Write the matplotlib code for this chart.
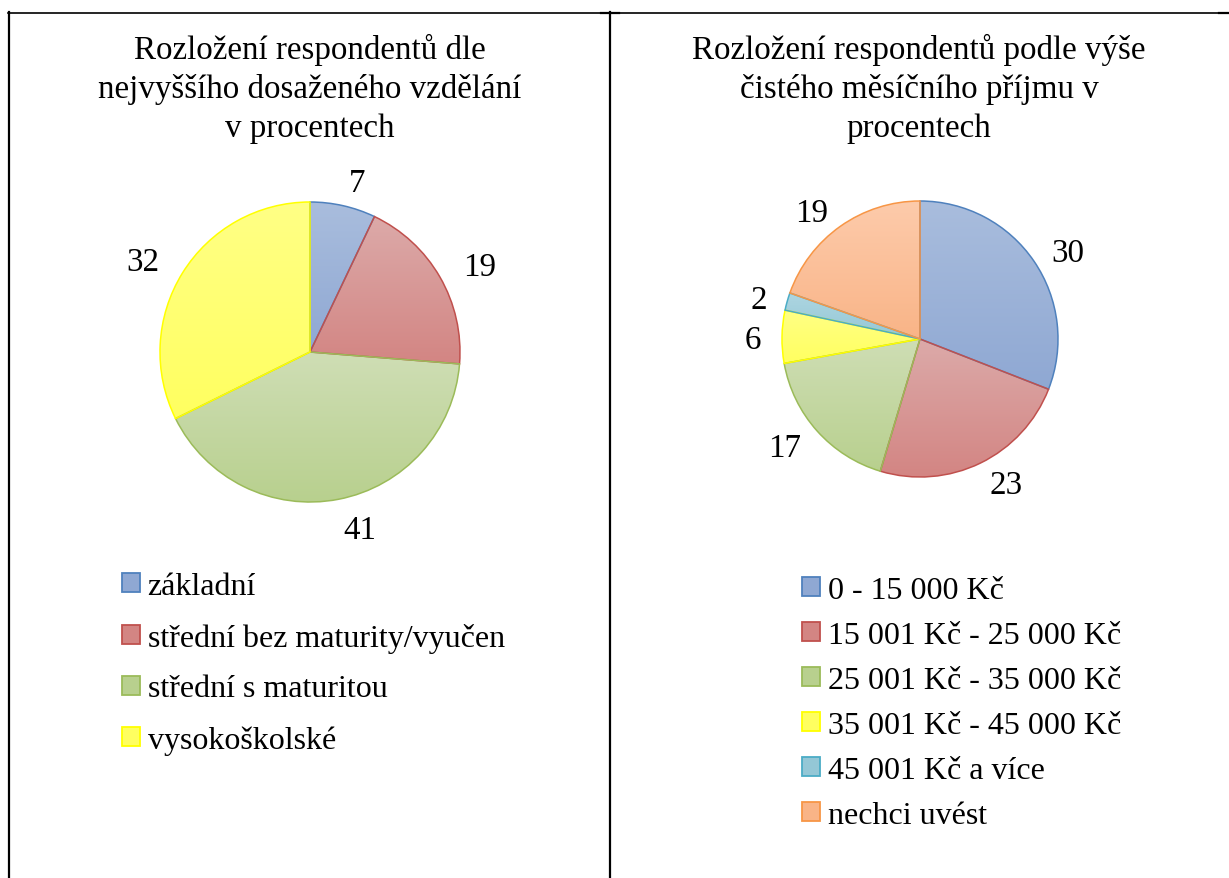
import numpy as np
import matplotlib
matplotlib.use("Agg")
import matplotlib.pyplot as plt
from matplotlib.colors import LinearSegmentedColormap
from matplotlib.lines import Line2D
from matplotlib.patches import Rectangle

plt.rcParams['font.family'] = ['Liberation Serif', 'DejaVu Serif']

# data
edu_title = "Rozložení respondentů dle\nnejvyššího dosaženého vzdělání\nv procentech"
edu_labels = ["základní", "střední bez maturity/vyučen", "střední s maturitou", "vysokoškolské"]
edu_values = [7, 19, 41, 32]

inc_title = "Rozložení respondentů podle výše\nčistého měsíčního příjmu v\nprocentech"
inc_labels = ["0 - 15 000 Kč", "15 001 Kč - 25 000 Kč", "25 001 Kč - 35 000 Kč",
              "35 001 Kč - 45 000 Kč", "45 001 Kč a více", "nechci uvést"]
inc_values = [30, 23, 17, 6, 2, 19]

# (top of gradient, bottom of gradient, outline)
palette = [
    ("#a9bddd", "#8fa8d3", "#4f81bd"),   # blue
    ("#dcaaa9", "#d38583", "#c0504d"),   # red
    ("#cfdeb5", "#b8d08e", "#9bbb59"),   # green
    ("#ffff85", "#ffff60", "#ffff00"),   # yellow
    ("#aed6e1", "#94c7d6", "#4bacc6"),   # teal
    ("#fdcbab", "#f9b487", "#f79646"),   # orange
]

W, H = 1229, 879
FS = 23.8
LEG_FS = 23.0

fig = plt.figure(figsize=(W / 100, H / 100), dpi=100)


def px_axes(cx, cy, r):
    # axes square around the pie centre, in pixel units of the figure
    return fig.add_axes([(cx - r) / W, 1 - (cy + r) / H, 2 * r / W, 2 * r / H])


def draw_pie(ax, values, labeldist):
    cols = palette[:len(values)]
    wedges, texts = ax.pie(values, labels=[str(v) for v in values], startangle=90,
                           counterclock=False, labeldistance=labeldist,
                           wedgeprops=dict(linewidth=1.1),
                           textprops=dict(fontsize=FS))
    for t in texts:
        t.set_va("center_baseline")
    grad = np.linspace(0, 1, 256)[:, None]
    for w, (top, bot, edge) in zip(wedges, cols):
        w.set_facecolor("none")
        w.set_edgecolor(edge)
        w.set_zorder(2)
        x0, y0, x1, y1 = w.get_path().get_extents().extents
        cmap = LinearSegmentedColormap.from_list("g", [top, bot])
        im = ax.imshow(grad, extent=(x0, x1, y0, y1), origin="upper", cmap=cmap,
                       aspect="auto", zorder=1)
        im.set_clip_path(w)
    ax.set_xlim(-1, 1)
    ax.set_ylim(-1, 1)
    ax.set_aspect("equal")
    ax.axis("off")
    return wedges


ax1 = px_axes(310, 353, 150)
draw_pie(ax1, edu_values, 1.18)

ax2 = px_axes(920, 340, 138)
draw_pie(ax2, inc_values, 1.15)

# titles
fig.text(310 / W, 1 - 89 / H, edu_title, ha="center", va="center", ma="center",
         fontsize=FS, linespacing=1.33)
fig.text(919 / W, 1 - 89 / H, inc_title, ha="center", va="center", ma="center",
         fontsize=FS, linespacing=1.33)


def legend_handles(n):
    return [Rectangle((0, 0), 1, 1, facecolor=palette[i][1], edgecolor=palette[i][2], linewidth=1.3)
            for i in range(n)]


fig.legend(legend_handles(len(edu_labels)), edu_labels, loc="upper left",
           bbox_to_anchor=(122 / W, 1 - 573 / H), frameon=False, fontsize=LEG_FS,
           handlelength=0.55, handleheight=0.55, handletextpad=0.25,
           labelspacing=0.68, borderpad=0, borderaxespad=0)
fig.legend(legend_handles(len(inc_labels)), inc_labels, loc="upper left",
           bbox_to_anchor=(802 / W, 1 - 577 / H), frameon=False, fontsize=LEG_FS,
           handlelength=0.55, handleheight=0.55, handletextpad=0.25,
           labelspacing=0.50, borderpad=0, borderaxespad=0)

# table borders
def fig_line(x0, y0, x1, y1, lw):
    fig.add_artist(Line2D([x0 / W, x1 / W], [1 - y0 / H, 1 - y1 / H],
                          transform=fig.transFigure, color="black", linewidth=lw))


fig_line(8, 13.5, W, 13.5, 1.2)
fig_line(9, 13, 9, H, 1.6)
fig_line(610, 13, 610, H, 1.6)
fig_line(601, 14, 619, 14, 1.6)
fig_line(1219, 14, W, 14, 1.6)

fig.savefig("out.png", dpi=100)
